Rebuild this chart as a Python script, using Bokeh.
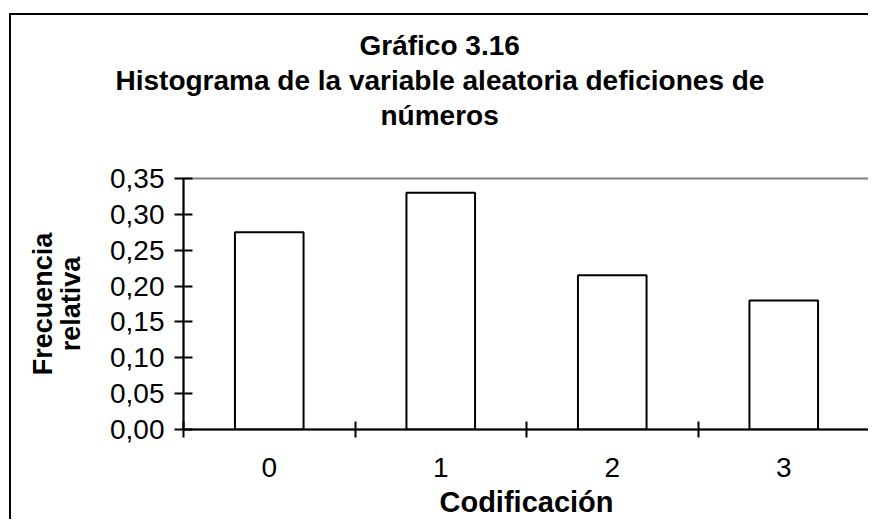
from bokeh.plotting import figure
from bokeh.models import FixedTicker, CustomJSTickFormatter, Title, Range1d, ColumnDataSource
from bokeh.embed import file_html
from bokeh.resources import INLINE

categories = [0, 1, 2, 3]
cat_labels = ["0", "1", "2", "3"]
freq_rel = [0.275, 0.33, 0.215, 0.18]
y_ticks = [0.0, 0.05, 0.10, 0.15, 0.20, 0.25, 0.30, 0.35]
title_lines = ["Gráfico 3.16", "Histograma de la variable aleatoria deficiones de", "números"]
x_title = "Codificación"
y_title = "Frecuencia\nrelativa"

FONT = "Liberation Sans"

p = figure(width=859, height=506, output_backend="svg", toolbar_location=None,
           x_range=Range1d(-0.5, 3.5), y_range=Range1d(0, 0.35),
           min_border_left=172, min_border_right=1, min_border_bottom=92, min_border_top=163)
p.title = None
p.styles = {"border-left": "2px solid black", "border-top": "2px solid black",
            "margin-left": "9px", "margin-top": "13px"}
p.background_fill_color = "white"
p.border_fill_color = "white"
p.grid.visible = False
p.outline_line_color = "#808080"
p.outline_line_width = 2

src = ColumnDataSource(dict(x=categories, top=freq_rel))
p.vbar(x="x", top="top", width=0.40, bottom=0, source=src,
       fill_color="white", line_color="black", line_width=2)

# y axis
ya = p.yaxis[0]
ya.ticker = FixedTicker(ticks=y_ticks)
ya.formatter = CustomJSTickFormatter(code="return tick.toFixed(2).replace('.', ',')")
ya.major_tick_in = 9
ya.major_tick_out = 9
ya.major_tick_line_width = 2
ya.minor_tick_line_color = None
ya.axis_line_width = 2
ya.major_label_text_font = FONT
ya.major_label_text_font_size = "28px"
ya.major_label_text_color = "black"
ya.major_label_standoff = 10
ya.axis_label = y_title
ya.axis_label_text_font = FONT
ya.axis_label_text_font_style = "bold"
ya.axis_label_text_font_size = "27px"
ya.axis_label_text_line_height = 0.92
ya.axis_label_text_color = "black"
ya.axis_label_standoff = 21

# x axis
xa = p.xaxis[0]
xa.ticker = FixedTicker(ticks=categories, minor_ticks=[-0.5, 0.5, 1.5, 2.5, 3.5])
xa.major_label_overrides = {c: l for c, l in zip(categories, cat_labels)}
xa.major_tick_line_color = None
xa.major_tick_in = 0
xa.major_tick_out = 0
xa.minor_tick_in = 8
xa.minor_tick_out = 8
xa.minor_tick_line_width = 2
xa.minor_tick_line_color = "black"
xa.axis_line_width = 2
xa.major_label_text_font = FONT
xa.major_label_text_font_size = "28px"
xa.major_label_text_color = "black"
xa.major_label_standoff = 20
xa.axis_label = x_title
xa.axis_label_text_font = FONT
xa.axis_label_text_font_style = "bold"
xa.axis_label_text_font_size = "29px"
xa.axis_label_text_color = "black"
xa.axis_label_standoff = 6

# spacer between the frame and the title block (white text on white)
p.add_layout(Title(text=".", text_color="white", text_font=FONT, text_font_size="48px",
                   standoff=12), "above")
# title lines, nearest to the frame first; left-aligned offsets centre them on the chart
offsets = {"números": 197, "Histograma de la variable aleatoria deficiones de": -68,
           "Gráfico 3.16": 176}
for line in reversed(title_lines):
    p.add_layout(Title(text=line, align="left", offset=offsets[line], text_font=FONT,
                       text_font_style="bold", text_font_size="28px",
                       text_color="black", standoff=2), "above")

open("out.html", "w").write(file_html(p, INLINE))
